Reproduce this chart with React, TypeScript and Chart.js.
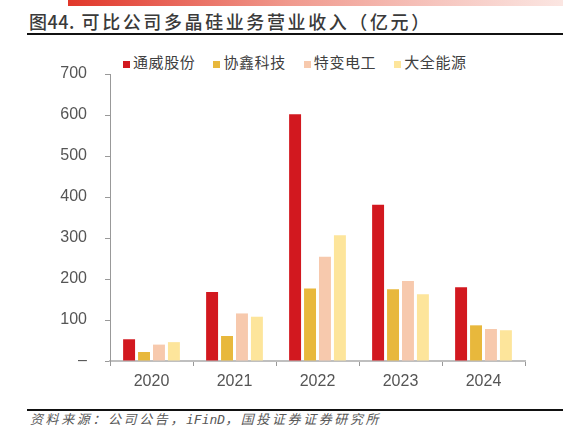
import React, { useEffect, useRef } from "react";
import { Chart, registerables } from "chart.js";

Chart.register(...registerables);

const categories = ["2020", "2021", "2022", "2023", "2024"];
const seriesNames = ["通威股份", "协鑫科技", "特变电工", "大全能源"];
const tongwei = [53, 168, 602, 381, 180];
const gcl = [22, 61, 177, 175, 87];
const tbea = [40, 116, 254, 195, 78];
const daqo = [46, 108, 307, 163, 75];
const colors = ["#d2181f", "#e8b83c", "#f7c9ad", "#fde59b"];
const yTicks = [0, 100, 200, 300, 400, 500, 600, 700];

export default function App() {
  const ref = useRef<HTMLCanvasElement>(null);
  useEffect(() => {
    document.body.style.margin = "0";
    const values = [tongwei, gcl, tbea, daqo];
    const chart = new Chart(ref.current!, {
      type: "bar",
      data: {
        labels: categories,
        datasets: seriesNames.map((n, i) => ({
          label: n,
          data: values[i],
          backgroundColor: colors[i],
          borderWidth: 0,
          barPercentage: 0.8,
          categoryPercentage: 0.72,
        })),
      },
      options: {
        animation: false,
        responsive: false,
        devicePixelRatio: 1,
        layout: { padding: { top: 34, right: 38, bottom: 0, left: 0 } },
        plugins: { legend: { display: false }, tooltip: { enabled: false } },
        scales: {
          x: {
            grid: {
              offset: true,
              drawOnChartArea: false,
              drawTicks: true,
              tickLength: 5,
              color: "#999999",
            },
            border: { color: "#bfbfbf", width: 2 },
            ticks: {
              color: "#555555",
              padding: 6,
              font: { family: "Liberation Sans, Arial", size: 16 },
            },
            afterFit: (s: any) => {
              s.height = 39;
            },
          },
          y: {
            min: 0,
            max: 700,
            afterBuildTicks: (s: any) => {
              s.ticks = yTicks.map((v) => ({ value: v }));
            },
            grid: {
              drawOnChartArea: false,
              drawTicks: true,
              tickLength: 5,
              color: "#999999",
            },
            border: { color: "#999999", width: 1 },
            ticks: {
              color: "#555555",
              padding: 18,
              font: { family: "Liberation Sans, Arial", size: 16 },
              callback: (v: any) => (Number(v) === 0 ? "–" : String(v)),
            },
            afterFit: (s: any) => {
              s.width = 110;
            },
          },
        },
      },
    });
    return () => chart.destroy();
  }, []);

  return (
    <div style={{ position: "relative", width: 563, height: 440, background: "#fff", overflow: "hidden" }}>
      <div
        style={{
          position: "absolute",
          left: 68,
          top: 0,
          width: 495,
          height: 6,
          background: "linear-gradient(to right, #e1372a, #f09a8e 45%, #f6c6bf 75%, #fbe6e2)",
        }}
      />
      <div
        style={{
          position: "absolute",
          left: 29,
          top: 8,
          fontFamily: "'Noto Sans CJK SC', sans-serif",
          fontSize: 18,
          fontWeight: 500,
          color: "#3a3a3a",
          lineHeight: "26px",
          whiteSpace: "nowrap",
        }}
      >
        <span style={{ letterSpacing: 0.5 }}>图44.</span>
        <span style={{ letterSpacing: 2.6 }}> 可比公司多晶硅业务营业收入（亿元）</span>
      </div>
      <div style={{ position: "absolute", left: 27, top: 32.5, width: 536, height: 2, background: "#111" }} />
      <div
        style={{
          position: "absolute",
          left: 123,
          top: 52,
          display: "flex",
          alignItems: "center",
          fontFamily: "'Noto Sans CJK SC', sans-serif",
          fontSize: 15,
          color: "#404040",
          whiteSpace: "nowrap",
          lineHeight: "20px",
        }}
      >
        {seriesNames.map((n, i) => (
          <div key={n} style={{ display: "flex", alignItems: "center", marginRight: 18 }}>
            <span
              style={{
                display: "inline-block",
                width: 7,
                height: 7,
                background: colors[i],
                marginRight: 3,
                marginTop: 4,
              }}
            />
            <span style={{ letterSpacing: 0.6 }}>{n}</span>
          </div>
        ))}
      </div>
      <canvas ref={ref} width={563} height={360} style={{ position: "absolute", left: 0, top: 40 }} />
      <div style={{ position: "absolute", left: 27, top: 409, width: 536, height: 1.5, background: "#111" }} />
      <div
        style={{
          position: "absolute",
          left: 30,
          top: 411,
          fontFamily: "'DejaVu Sans Mono', 'Noto Sans CJK SC', monospace",
          fontSize: 13,
          fontStyle: "italic",
          color: "#595959",
          lineHeight: "18px",
          whiteSpace: "nowrap",
          letterSpacing: 2.6,
        }}
      >
        资料来源：公司公告，<span style={{ letterSpacing: 0 }}>iFinD</span>，国投证券证券研究所
      </div>
    </div>
  );
}
